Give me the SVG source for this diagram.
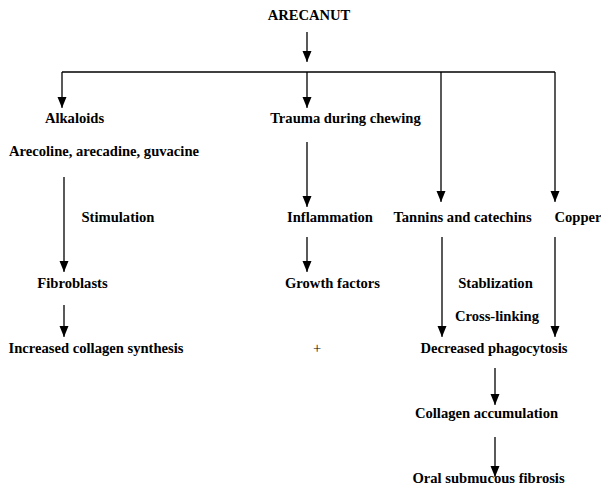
<svg xmlns="http://www.w3.org/2000/svg" width="601" height="489" viewBox="0 0 601 489">
<style>
text{font-family:'Liberation Serif','Times New Roman',Times,serif;font-weight:bold;font-size:14.6px;fill:#000;text-anchor:middle}
.c line{stroke:#000;stroke-width:1.3;fill:none}
.a{marker-end:url(#ah)}
</style>
<defs>
<marker id="ah" markerUnits="userSpaceOnUse" markerWidth="10" markerHeight="10" refX="11" refY="4.5" orient="auto">
<path d="M0,0 L11,4.5 L0,9 z" fill="#000"/>
</marker>
</defs>
<rect width="601" height="489" fill="#fff"/>
<g class="c" id="connectors">
<line class="a" x1="307" y1="32" x2="307" y2="62"/>
<line x1="62" y1="72" x2="555" y2="72"/>
<line class="a" x1="62" y1="72" x2="62" y2="108"/>
<line class="a" x1="307" y1="72" x2="307" y2="108"/>
<line class="a" x1="441" y1="72" x2="441" y2="202"/>
<line class="a" x1="555" y1="72" x2="555" y2="202"/>
<line class="a" x1="64" y1="177" x2="64" y2="272"/>
<line class="a" x1="64" y1="305" x2="64" y2="337"/>
<line class="a" x1="307" y1="142" x2="307" y2="207"/>
<line class="a" x1="307" y1="237" x2="307" y2="272"/>
<line class="a" x1="442" y1="237" x2="442" y2="337"/>
<line class="a" x1="555" y1="237" x2="555" y2="337"/>
<line class="a" x1="495" y1="368" x2="495" y2="405"/>
<line class="a" x1="495" y1="437" x2="495" y2="477"/>
</g>
<g id="arecanut"><text x="309" y="20">ARECANUT</text></g>
<g id="alkaloids"><text x="74.5" y="123">Alkaloids</text></g>
<g id="trauma"><text x="345.5" y="123">Trauma during chewing</text></g>
<g id="arecoline"><text x="104" y="156">Arecoline, arecadine, guvacine</text></g>
<g id="stimulation"><text x="118" y="222">Stimulation</text></g>
<g id="inflammation"><text x="330" y="222">Inflammation</text></g>
<g id="tannins"><text x="462.5" y="222">Tannins and catechins</text></g>
<g id="copper"><text x="578" y="222">Copper</text></g>
<g id="fibroblasts"><text x="72.5" y="288">Fibroblasts</text></g>
<g id="growth"><text x="332.5" y="288">Growth factors</text></g>
<g id="stablization"><text x="495.5" y="288">Stablization</text></g>
<g id="crosslinking"><text x="497" y="321">Cross-linking</text></g>
<g id="increased"><text x="96" y="353">Increased collagen synthesis</text></g>
<g id="plus"><text x="317" y="353" style="font-weight:normal">+</text></g>
<g id="decreased"><text x="494" y="353">Decreased phagocytosis</text></g>
<g id="accumulation"><text x="486.5" y="418">Collagen accumulation</text></g>
<g id="osf"><text x="488.5" y="483">Oral submucous fibrosis</text></g>
</svg>
